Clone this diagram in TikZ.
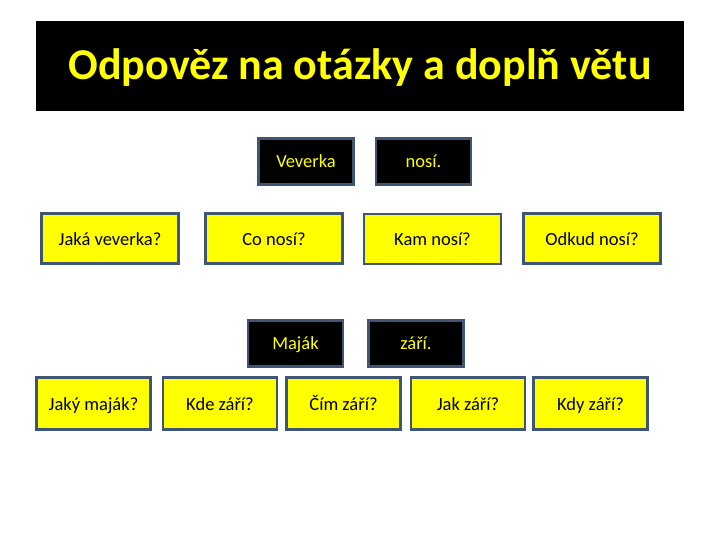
\documentclass[tikz,border=0pt]{standalone}
\usepackage{fontspec}
\setmainfont{Carlito}
\usetikzlibrary{positioning}
\definecolor{boxline}{HTML}{3E5573}
\definecolor{slideyellow}{HTML}{FFFF00}

\begin{document}
\begin{tikzpicture}[x=1pt, y=-1pt,
    question/.style={draw=boxline, line width=2.5pt, fill=slideyellow, text=black,
      minimum height=50pt, font=\fontsize{18.5}{22}\selectfont, inner sep=0pt,
      text height=13pt, text depth=0pt},
    word/.style={draw=boxline, line width=2.5pt, fill=black, text=slideyellow,
      minimum width=95pt, minimum height=46pt, font=\fontsize{18.5}{22}\selectfont, inner sep=0pt,
      text height=12.5pt, text depth=0pt}]
  \useasboundingbox (0,0) rectangle (720,540);
  \node[fill=black, minimum width=648pt, minimum height=90pt, inner sep=0pt,
    text=slideyellow, font=\fontsize{44}{52}\selectfont\bfseries,
    text height=28pt, text depth=0pt] (title) at (360,66) {Odpověz na otázky a doplň větu};
  \node[word] (veverka) at (306,161.5) {Veverka};
  \node[word] (nosi) at (423.5,161.5) {nosí.};
  \node[question, minimum width=137pt] (jaka) at (110,238.5) {Jaká veverka?};
  \node[question, minimum width=137pt] (co) at (274,238.5) {Co nosí?};
  \node[question, minimum width=137pt] (kam) at (432.5,239) {Kam nosí?};
  \node[question, minimum width=137pt] (odkud) at (592,238.5) {Odkud nosí?};
  \node[word] (majak) at (295.5,343.5) {Maják};
  \node[word] (zari) at (416,343.5) {září.};
  \node[question, minimum width=114pt, minimum height=52pt] (jaky) at (93.5,403.5) {Jaký maják?};
  \node[question, minimum width=114pt, minimum height=52pt] (kde) at (220,403.5) {Kde září?};
  \node[question, minimum width=114pt, minimum height=52pt] (cim) at (343.5,403.5) {Čím září?};
  \node[question, minimum width=114pt, minimum height=52pt] (jak) at (468,403.5) {Jak září?};
  \node[question, minimum width=114pt, minimum height=52pt] (kdy) at (590.5,403.5) {Kdy září?};
\end{tikzpicture}
\end{document}
